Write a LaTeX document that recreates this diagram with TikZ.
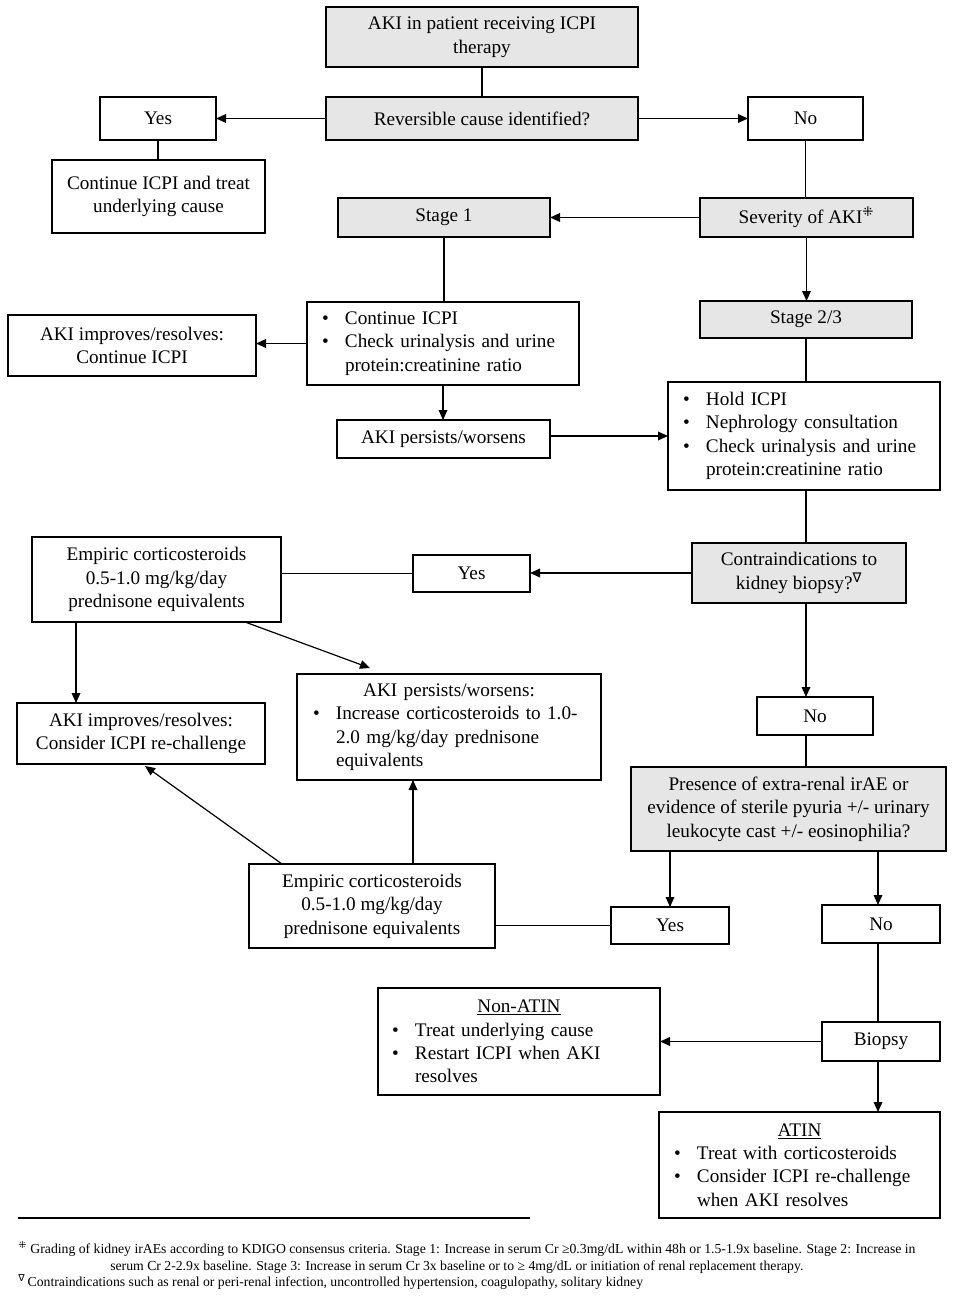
\documentclass[tikz,border=0pt]{standalone}
\usepackage{fontspec}
\setmainfont{Liberation Serif}
\newfontfamily\symf{DejaVu Sans}
\usetikzlibrary{arrows.meta,calc}
\definecolor{gfill}{RGB}{231,230,230}
\newcommand\bul[1]{\mbox{\makebox[17.25pt][l]{\textbullet}#1}}
\newcommand\cont[1]{\mbox{\hspace*{17.25pt}#1}}
\newcommand\dsym{\textsuperscript{\symf\char"205C}}
\newcommand\tsym{\textsuperscript{\symf ∇}}
% \bx[style]{name}{x1}{y1}{x2}{y2}{text}
\newcommand\bx[7][box]{\node[#1,minimum width={(#5-#3)*0.75pt},minimum height={(#6-#4)*0.75pt}] (#2) at ({(#3+#5)/2},{(#4+#6)/2}) {#7};}
\begin{document}
\begin{tikzpicture}[x=0.75pt,y=-0.75pt,
  box/.style={draw=black,line width=1.1pt,fill=white,rectangle,inner sep=0pt,outer sep=0pt,align=center,
    font=\fontsize{14.4pt}{17.6pt}\selectfont},
  gbox/.style={box,fill=gfill},
  conn/.style={line width=0.9pt},
  arr/.style={conn,-{Triangle[length=7.5pt,width=6.5pt]}},
  fn/.style={inner sep=0pt,anchor=base west,font=\fontsize{10.3pt}{12pt}\selectfont}]
\useasboundingbox (0,0) rectangle (957,1298);
% boxes
\bx[gbox]{top}{326}{7}{638}{67}{AKI in patient receiving ICPI\\therapy}
\bx[gbox]{rev}{326}{97}{638}{140}{Reversible cause identified?}
\bx{yes1}{100}{97}{216}{140}{Yes}
\bx{no1}{748}{97}{863}{140}{No}
\bx{cont}{52}{160}{265}{233}{Continue ICPI and treat\\underlying cause}
\bx[gbox]{st1}{338}{198}{550}{237}{Stage 1}
\bx[gbox]{sev}{700}{198}{913}{237}{Severity of AKI\dsym}
\bx[gbox]{st23}{700}{301}{912}{338}{Stage 2/3}
\bx[box,align=left,text width=181.5pt]{b1}{307}{302}{579}{385}{\bul{Continue ICPI}\\\bul{Check urinalysis and urine}\\\cont{protein:creatinine ratio}}
\bx{imp1}{8}{315}{256}{376}{AKI improves/resolves:\\Continue ICPI}
\bx{pers1}{337}{420}{550}{458}{AKI persists/worsens}
\bx[box,align=left,text width=181.5pt]{hold}{668}{382}{940}{490}{\bul{Hold ICPI}\\\bul{Nephrology consultation}\\\bul{Check urinalysis and urine}\\\cont{protein:creatinine ratio}}
\bx[gbox]{contra}{692}{543}{906}{603}{Contraindications to\\kidney biopsy?\tsym}
\bx{yes2}{413}{555}{530}{592}{Yes}
\bx{emp1}{32}{537}{281}{622}{Empiric corticosteroids\\0.5-1.0 mg/kg/day\\prednisone equivalents}
\bx{imp2}{17}{703}{265}{764}{AKI improves/resolves:\\Consider ICPI re-challenge}
\bx[box,align=left,text width=204pt]{pers2}{297}{674}{601}{780}{\makebox[204pt][c]{AKI persists/worsens:}\\\bul{Increase corticosteroids to 1.0-}\\\cont{2.0 mg/kg/day prednisone}\\\cont{equivalents}}
\bx{no2}{757}{697}{873}{735}{No}
\bx[gbox]{pres}{631}{767}{946}{851}{Presence of extra-renal irAE or\\evidence of sterile pyuria +/- urinary\\leukocyte cast +/- eosinophilia?}
\bx{emp2}{249}{864}{495}{948}{Empiric corticosteroids\\0.5-1.0 mg/kg/day\\prednisone equivalents}
\bx{yes3}{611}{907}{729}{944}{Yes}
\bx{no3}{822}{905}{940}{943}{No}
\bx{bio}{822}{1022}{940}{1061}{Biopsy}
\bx[box,align=left,text width=190.5pt]{non}{378}{988}{660}{1095}{\makebox[190.5pt][c]{\underline{Non-ATIN}}\\\bul{Treat underlying cause}\\\bul{Restart ICPI when AKI}\\\cont{resolves}}
\bx[box,align=left,text width=188.25pt]{atin}{659}{1112}{940}{1218}{\makebox[188.25pt][c]{\underline{ATIN}}\\\bul{Treat with corticosteroids}\\\bul{Consider ICPI re-challenge}\\\cont{when AKI resolves}}
% connectors
\draw[conn] (top.south) -- (top.south |- rev.north);
\draw[arr] (rev.west) -- (yes1.east);
\draw[arr] (rev.east) -- (no1.west);
\draw[conn] (yes1.south) -- (yes1.south |- cont.north);
\draw[conn] (no1.south) -- (no1.south |- sev.north);
\draw[arr] (sev.west) -- (st1.east);
\draw[arr] (sev.south) -- (sev.south |- st23.north);
\draw[conn] (st1.south) -- (st1.south |- b1.north);
\draw[arr] (b1.west) -- (b1.west -| imp1.east);
\draw[arr] (b1.south) -- (b1.south |- pers1.north);
\draw[arr] ($(pers1.east)+(0,-3)$) -- ($(pers1.east -| hold.west)+(0,-3)$);
\draw[conn] (st23.south) -- (st23.south |- hold.north);
\draw[conn] (st23.south |- hold.south) -- (st23.south |- contra.north);
\draw[arr] (contra.west) -- (contra.west -| yes2.east);
\draw[conn] (yes2.west) -- (yes2.west -| emp1.east);
\draw[arr] ($(emp1.south west)+(44,0)$) -- ($(imp2.north west)+(59,0)$);
\draw[arr] ($(emp1.south west)+(213,0)$) -- ($(pers2.north west)+(73,-6)$);
\draw[arr] (st23.south |- contra.south) -- (st23.south |- no2.north);
\draw[conn] (st23.south |- no2.south) -- (st23.south |- pres.north);
\draw[arr] (yes3.north |- pres.south) -- (yes3.north);
\draw[arr] ($(no3.north |- pres.south)+(-3,0)$) -- ($(no3.north)+(-3,0)$);
\draw[conn] (yes3.west) -- (yes3.west -| emp2.east);
\draw[arr] ($(emp2.north west)+(33,0)$) -- ($(imp2.south west)+(128,2)$);
\draw[arr] ($(emp2.north west)+(164,0)$) -- ($(pers2.south west)+(116,0)$);
\draw[conn] ($(no3.south)+(-3,0)$) -- ($(bio.north)+(-3,0)$);
\draw[arr] (bio.west) -- (bio.west -| non.east);
\draw[arr] ($(bio.south)+(-3,0)$) -- ($(bio.south |- atin.north)+(-3,0)$);
% footnotes
\draw[line width=0.9pt] (18,1218) -- (530,1218);
\node[fn] (f1) at (18,1253) {\dsym\ Grading of kidney irAEs according to KDIGO consensus criteria. Stage 1: Increase in serum Cr ≥0.3mg/dL within 48h or 1.5-1.9x baseline. Stage 2: Increase in};
\node[fn] (f2) at (110,1270) {serum Cr 2-2.9x baseline. Stage 3: Increase in serum Cr 3x baseline or to ≥ 4mg/dL or initiation of renal replacement therapy.};
\node[fn] (f3) at (18,1286) {\tsym\,Contraindications such as renal or peri-renal infection, uncontrolled hypertension, coagulopathy, solitary kidney};
\end{tikzpicture}
\end{document}
